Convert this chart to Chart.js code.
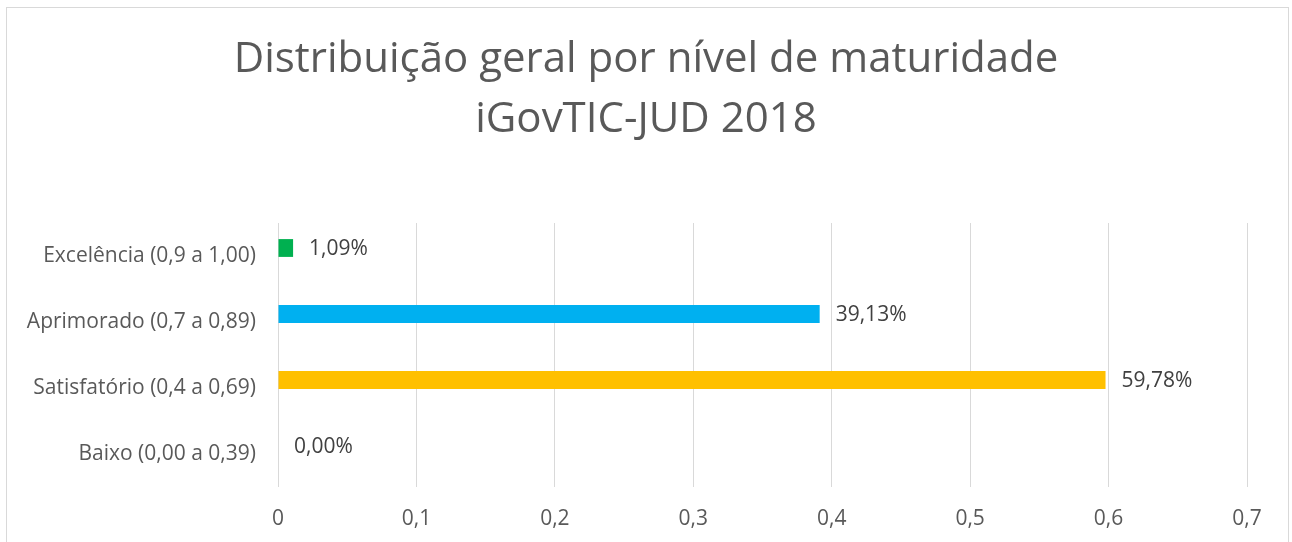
<!DOCTYPE html>
<html>
<head>
<meta charset="utf-8">
<script src="https://cdn.jsdelivr.net/npm/chart.js@4.4.0/dist/chart.umd.min.js"></script>
<style>
  html, body { margin: 0; padding: 0; background: #fff; overflow: hidden; }
  #frame { position: absolute; left: 6px; top: 7px; width: 1283px; height: 600px; border: 1px solid #d9d9d9; box-sizing: border-box; }
  #wrap { position: absolute; left: 0; top: 0; width: 1292px; height: 542px; }
</style>
</head>
<body>
<div id="frame"></div>
<div id="wrap"><canvas id="c" width="1292" height="542"></canvas></div>
<script>
const titleLines = ["Distribuição geral por nível de maturidade", "iGovTIC-JUD 2018"];
const categories = ["Excelência (0,9 a 1,00)", "Aprimorado (0,7 a 0,89)", "Satisfatório (0,4 a 0,69)", "Baixo (0,00 a 0,39)"];
const values = [0.0109, 0.3913, 0.5978, 0.0];
const valueLabels = ["1,09%", "39,13%", "59,78%", "0,00%"];
const barColors = ["#00B050", "#00B0F0", "#FFC000", "#A5A5A5"];
const xTicks = [0, 0.1, 0.2, 0.3, 0.4, 0.5, 0.6, 0.7];

const FONT = "'Open Sans', sans-serif";
const BAR_SHIFT = -8;

const titlePlugin = {
  id: 'twoLineTitle',
  afterDraw(chart) {
    const ctx = chart.ctx;
    ctx.save();
    ctx.font = "42px " + FONT;
    ctx.fillStyle = "#595959";
    ctx.textAlign = "center";
    ctx.textBaseline = "middle";
    titleLines.forEach((t, i) => ctx.fillText(t, chart.width / 2, 60 + i * 60));
    ctx.restore();
  }
};

const barPlugin = {
  id: 'barsAndLabels',
  beforeDatasetsDraw(chart) {
    chart.ctx.save();
    chart.ctx.translate(0, BAR_SHIFT);
  },
  afterDatasetsDraw(chart) {
    const ctx = chart.ctx;
    const meta = chart.getDatasetMeta(0);
    ctx.font = "21px " + FONT;
    ctx.fillStyle = "#404040";
    ctx.textAlign = "left";
    ctx.textBaseline = "middle";
    meta.data.forEach((bar, i) => {
      ctx.fillText(valueLabels[i], bar.x + 16, bar.y + 1);
    });
    ctx.restore();
  }
};

new Chart(document.getElementById('c'), {
  type: 'bar',
  data: {
    labels: categories,
    datasets: [{
      data: values,
      backgroundColor: barColors,
      borderWidth: 0,
      barPercentage: 0.27,
      categoryPercentage: 1.0,
      clip: false
    }]
  },
  options: {
    indexAxis: 'y',
    responsive: false,
    animation: false,
    layout: { padding: { left: 0, right: 45, top: 223, bottom: 0 } },
    plugins: {
      legend: { display: false },
      tooltip: { enabled: false },
      title: { display: false }
    },
    scales: {
      x: {
        min: 0, max: 0.7,
        afterBuildTicks(scale) { scale.ticks = xTicks.map(v => ({ value: v })); },
        afterFit(scale) { scale.height = 55; },
        grid: { color: "#d9d9d9", lineWidth: 1, drawTicks: false },
        border: { display: false },
        ticks: {
          color: "#595959",
          font: { family: FONT, size: 21 },
          padding: 19,
          callback: (v) => String(Math.round(v * 10) / 10).replace('.', ',')
        }
      },
      y: {
        afterFit(scale) { scale.width = 278; },
        grid: { display: false, drawTicks: false },
        border: { display: false },
        ticks: {
          color: "#595959",
          font: { family: FONT, size: 21 },
          padding: 22
        }
      }
    }
  },
  plugins: [titlePlugin, barPlugin]
});
</script>
</body>
</html>
